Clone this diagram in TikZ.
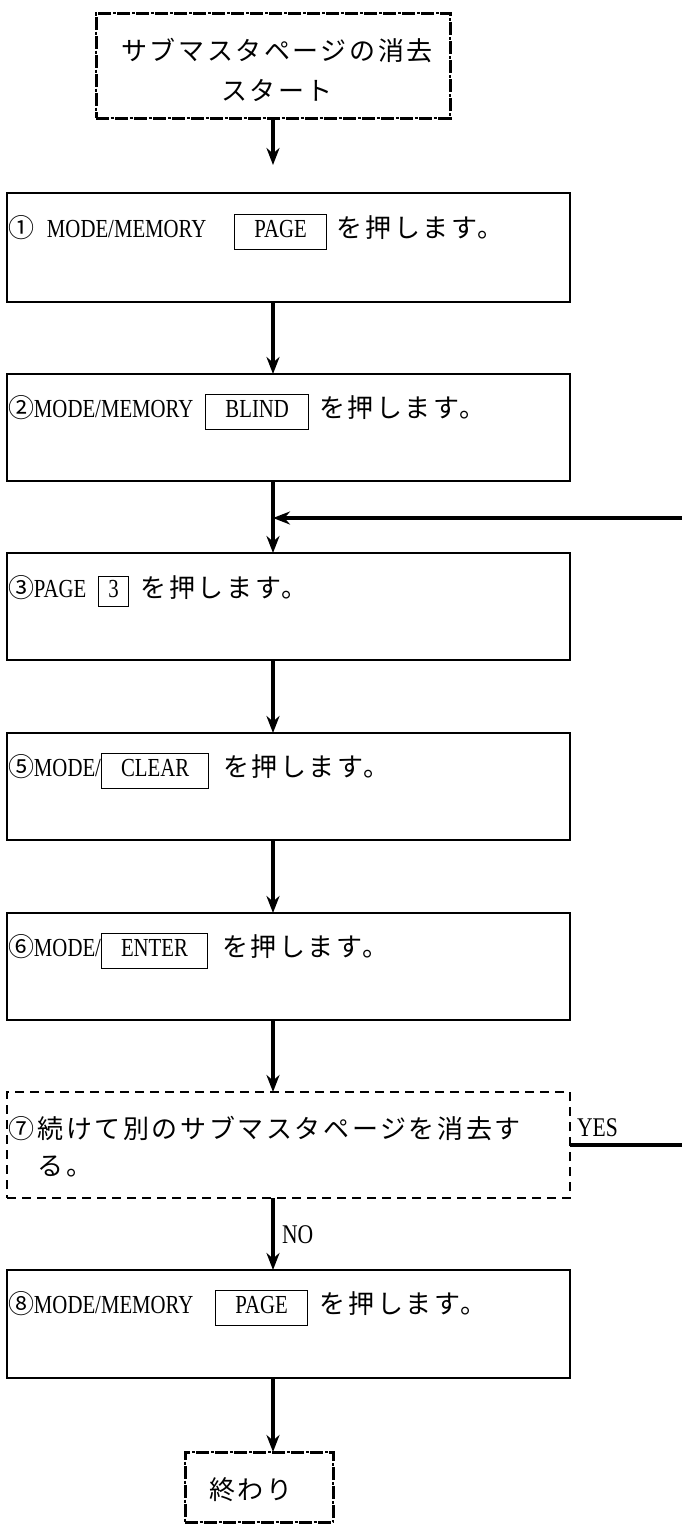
\documentclass[tikz,border=0pt]{standalone}
\usepackage{fontspec}
\newfontfamily\jp[LetterSpace=10]{Noto Sans CJK JP}
\newfontfamily\lat[FakeStretch=0.8]{Liberation Serif}
\usetikzlibrary{arrows.meta}
\newcommand{\kb}[1]{{\setlength{\fboxrule}{1pt}\setlength{\fboxsep}{6pt}\fbox{\hspace{13pt}\lat\vphantom{Ay}#1\hspace{13pt}}}}
\newcommand{\kbs}[1]{{\setlength{\fboxrule}{1pt}\setlength{\fboxsep}{3pt}\fbox{\hspace{6pt}\lat\vphantom{Ay}#1\hspace{6pt}}}}
\newcommand{\cb}{\hspace{-1pt}}
\begin{document}
\begin{tikzpicture}[x=1pt,y=-1pt,
  every node/.style={inner sep=0pt, outer sep=0pt},
  box/.style={draw, line width=2.4pt, minimum width=563pt},
  dbox/.style={box, dash pattern=on 9pt off 6pt},
  term/.style={draw, line width=3pt, dash pattern=on 13pt off 6pt,
    preaction={draw, line width=1.4pt, dash pattern=on 0pt off 14.5pt on 3pt off 1.5pt}},
  arr/.style={line width=3.4pt, -{Stealth[length=17pt,width=13pt]}},
  txt/.style={anchor=west, font=\jp\fontsize{26}{37}\selectfont, align=left},
  lbl/.style={anchor=west, font=\lat\fontsize{27}{30}\selectfont}
]
\useasboundingbox (0,0) rectangle (682,1524);
\clip (0,0) rectangle (682,1524);

% terminals
\node[term, minimum width=354pt, minimum height=105pt] (start) at (273,65.5) {};
\node[txt, anchor=center, align=center, font=\jp\fontsize{26}{40}\selectfont] (starttxt) at (277,70) {サブマスタページの消去\\スタート};
\node[term, minimum width=148pt, minimum height=70pt] (end) at (259,1487) {};
\node[txt, anchor=center] (endtxt) at (251,1490) {終わり};

% process boxes
\node[box, minimum height=109pt] (b1) at (288.5,247.5) {};
\node[box, minimum height=107pt] (b2) at (288.5,427.5) {};
\node[box, minimum height=107pt] (b3) at (288.5,606.5) {};
\node[box, minimum height=107pt] (b5) at (288.5,786.5) {};
\node[box, minimum height=107pt] (b6) at (288.5,966.5) {};
\node[dbox, minimum height=106pt] (b7) at (288.5,1145) {};
\node[box, minimum height=108pt] (b8) at (288.5,1324) {};

% texts
\node[txt] (t1) at (9,232) {①{\lat\hspace{12pt}MODE/MEMORY\hspace{28pt}}\kb{PAGE}\hspace{10pt}を押します。};
\node[txt] (t2) at (9,412) {②\cb{\lat MODE/MEMORY\hspace{12pt}}\kb{BLIND}\hspace{10pt}を押します。};
\node[txt] (t3) at (9,591) {③\cb{\lat PAGE\hspace{12pt}}\kbs{3}\hspace{12pt}を押します。};
\node[txt] (t5) at (9,771) {⑤\cb{\lat MODE/}\kb{CLEAR}\hspace{14pt}を押します。};
\node[txt] (t6) at (9,951) {⑥\cb{\lat MODE/}\kb{ENTER}\hspace{14pt}を押します。};
\node[txt] (t7) at (9,1146.5) {⑦続けて別のサブマスタページを消去す\\\hspace*{28.6pt}る。};
\node[txt] (t8) at (9,1308) {⑧\cb{\lat MODE/MEMORY\hspace{22pt}}\kb{PAGE}\hspace{12pt}を押します。};

% labels
\node[lbl] (yes) at (577,1128) {YES};
\node[lbl] (no) at (282,1235) {NO};

% connectors
\coordinate (ax) at (273,0);
\coordinate (s1) at (273,165);
\coordinate (fb) at (273,518);
\draw[arr] (start.south -| ax) -- (s1);
\draw[arr] (b1.south -| ax) -- (b2.north -| ax);
\draw[arr] (b2.south -| ax) -- (b3.north -| ax);
\draw[arr] (b3.south -| ax) -- (b5.north -| ax);
\draw[arr] (b5.south -| ax) -- (b6.north -| ax);
\draw[arr] (b6.south -| ax) -- (b7.north -| ax);
\draw[arr] (b7.south -| ax) -- (b8.north -| ax);
\draw[arr] (b8.south -| ax) -- (end.north -| ax);
\draw[arr] (b7.east) -- ++(140,0) |- (fb);
\end{tikzpicture}
\end{document}
